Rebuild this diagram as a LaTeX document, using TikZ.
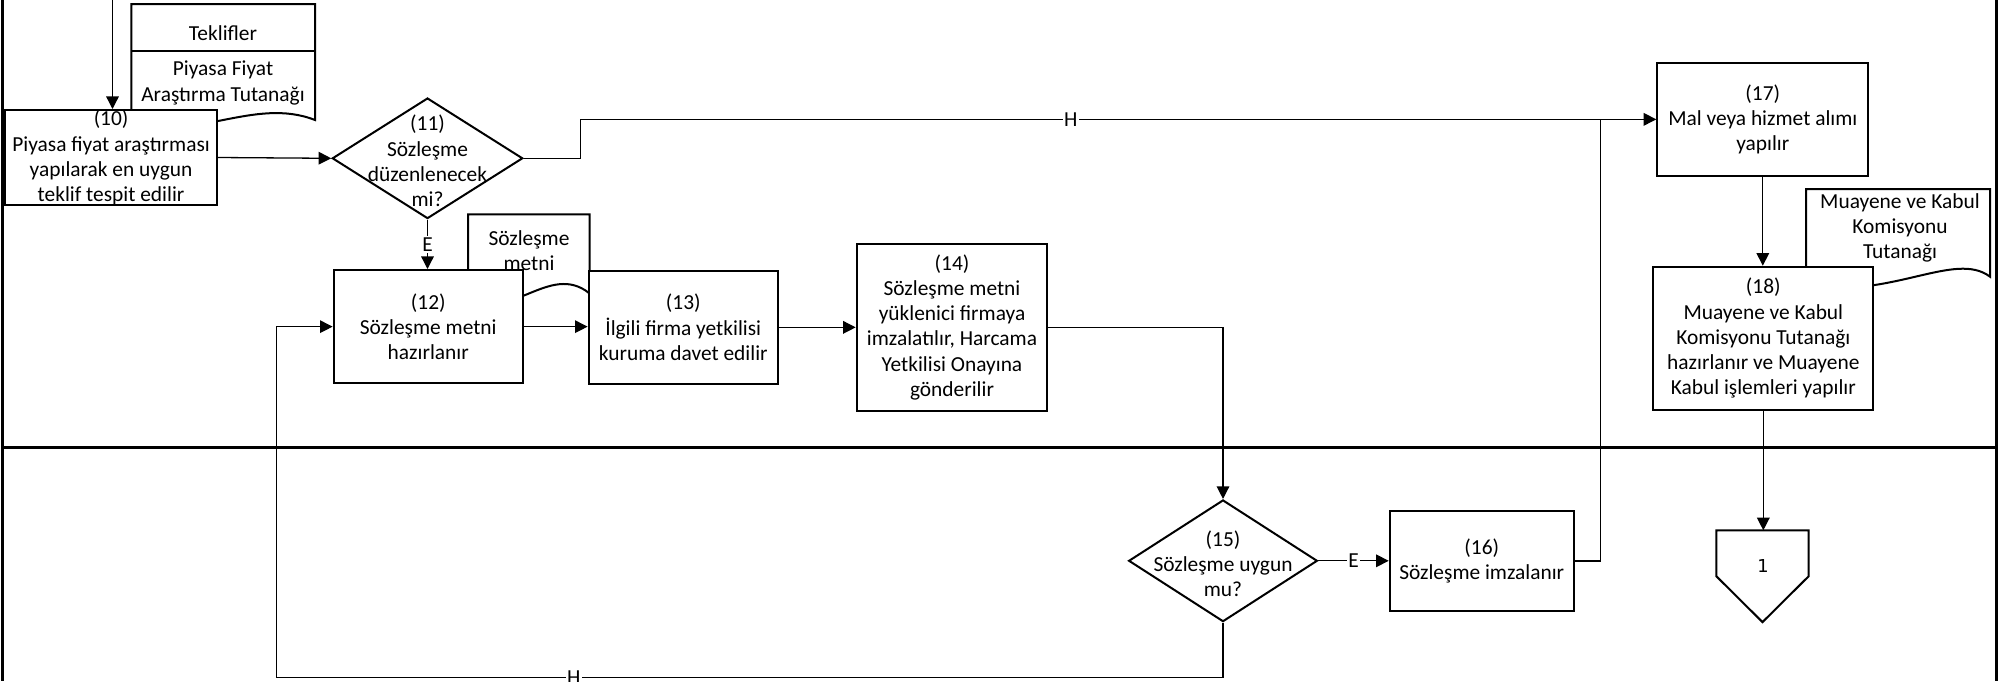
\documentclass[tikz,border=0pt]{standalone}
\usepackage{fontspec}
\setmainfont{Carlito}
\newfontfamily\dvs{DejaVu Sans}
\usetikzlibrary{arrows.meta,shapes.geometric,calc}
\begin{document}
\begin{tikzpicture}[x=0.5pt,y=-0.5pt,
  font=\fontsize{10.7pt}{12.6pt}\selectfont,
  box/.style={draw, line width=1pt, fill=white, inner sep=0pt, align=center},
  dia/.style={draw, diamond, line width=1pt, fill=white, inner sep=0pt},
  txt/.style={inner sep=0pt, align=center},
  conn/.style={line width=0.65pt},
  arr/.style={conn, -{Triangle[length=6.3pt,width=6.3pt]}},
  lbl/.style={fill=white, inner sep=0.8pt},
  lane/.style={line width=1.5pt},
  doc/.style={draw, line width=1pt, fill=white}]
\useasboundingbox (0,0) rectangle (2002,681);
\clip (0,0) rectangle (2002,681);

% lanes
\draw[lane] (2,0) -- (2,681);
\draw[lane] (1996.7,0) -- (1996.7,681);
\draw[lane] (2,447.7) -- (1996.7,447.7);

% documents
\draw[doc] (131.4,4) -- (315,4) -- (315,120) .. controls (253.8,96) and (192.6,144) .. (131.4,120) -- cycle;
\draw[line width=1pt] (131.4,51) -- (315,51);
\draw[doc] (468.2,214.3) -- (589.6,214.3) -- (589.6,293.5) .. controls (549.1,260.5) and (508.7,326.5) .. (468.2,293.5) -- cycle;
\draw[doc] (1806,189) -- (1990,189) -- (1990,276.7) .. controls (1955,250) and (1890,300) .. (1806,285) -- cycle;

% process boxes
\node[box, minimum width=105.7pt, minimum height=47.5pt] (b10) at (111.1,157.5)
  {(10)\\Piyasa fiyat araştırması\\yapılarak en uygun\\teklif tespit edilir};
\node[dia, minimum width=95.25pt, minimum height=60.3pt] (d11) at (427.5,158.3) {};
\node[txt] (t11) at (427.5,161) {(11)\\Sözleşme\\düzenlenecek\\mi?};
\node[box, minimum width=94.65pt, minimum height=56.65pt] (b12) at (428.25,326.65)
  {(12)\\Sözleşme metni\\hazırlanır};
\node[box, minimum width=94.65pt, minimum height=56.65pt] (b13) at (683.25,327.35)
  {(13)\\İlgili firma yetkilisi\\kuruma davet edilir};
\node[box, minimum width=95.3pt, minimum height=83.35pt] (b14) at (952,327.35)
  {(14)\\Sözleşme metni\\yüklenici firmaya\\imzalatılır, Harcama\\Yetkilisi Onayına\\gönderilir};
\node[dia, minimum width=94.35pt, minimum height=60.85pt] (d15) at (1223,560.8) {};
\node[txt] (t15) at (1223,563.9) {(15)\\Sözleşme uygun\\mu?};
\node[box, minimum width=92.05pt, minimum height=50.15pt] (b16) at (1481.75,560.85)
  {(16)\\Sözleşme imzalanır};
\node[box, minimum width=105.5pt, minimum height=56.65pt] (b17) at (1762.8,119.35)
  {(17)\\Mal veya hizmet alımı\\yapılır};
\node[box, minimum width=110pt, minimum height=71.65pt] (b18) at (1763.3,338.35)
  {(18)\\Muayene ve Kabul\\Komisyonu Tutanağı\\hazırlanır ve Muayene\\Kabul işlemleri yapılır};

% off-page connector
\node[inner sep=0pt, minimum width=45.8pt, minimum height=45.5pt] (c1) at (1762.5,576.2) {};
\draw[line width=1pt, fill=white] (c1.north west) -- (c1.north east) -- (c1.east) -- (c1.south) -- (c1.west) -- cycle;
\node[txt, font=\dvs\fontsize{8.9pt}{10pt}\selectfont] (t1) at (1763,566) {1};

% document texts
\node[txt] (tk) at (223,33) {Teklifler};
\node[txt] (tp) at (223,83) {Piyasa Fiyat\\Araştırma Tutanağı};
\node[txt] (ts) at (529,250.5) {Sözleşme\\metni};
\node[txt] (tm) at (1900,228) {Muayene ve Kabul\\Komisyonu\\Tutanağı};

% connectors
\coordinate (top10) at (112.5,0);
\draw[arr] (top10) -- (top10 |- b10.north);
\draw[arr] (b10.east) -- (d11.west);
\draw[arr] (d11.east) -- ++(56.4,0) |- node[lbl,pos=0.728]{H} (b17.west);
\draw[arr] (d11.south) -- node[lbl]{E} (d11.south |- b12.north);
\draw[arr] (b12.east) -- (b12.east -| b13.west);
\draw[arr] (b13.east) -- (b13.east -| b14.west);
\draw[arr] (b14.east) -| (d15.north);
\draw[arr] (d15.east) -- node[lbl]{E} (d15.east -| b16.west);
\coordinate (j17) at (1600.6,119.35);
\draw[conn] (b16.east) -| (j17);
\coordinate (lb) at (276.8,677.7);
\draw[arr] (d15.south) |- node[lbl,pos=0.843]{H} (lb) |- (b12.west);
\draw[arr] (b17.south) -- (b17.south |- b18.north);
\draw[arr] (b18.south) -- (b18.south |- c1.north);
\end{tikzpicture}
\end{document}
